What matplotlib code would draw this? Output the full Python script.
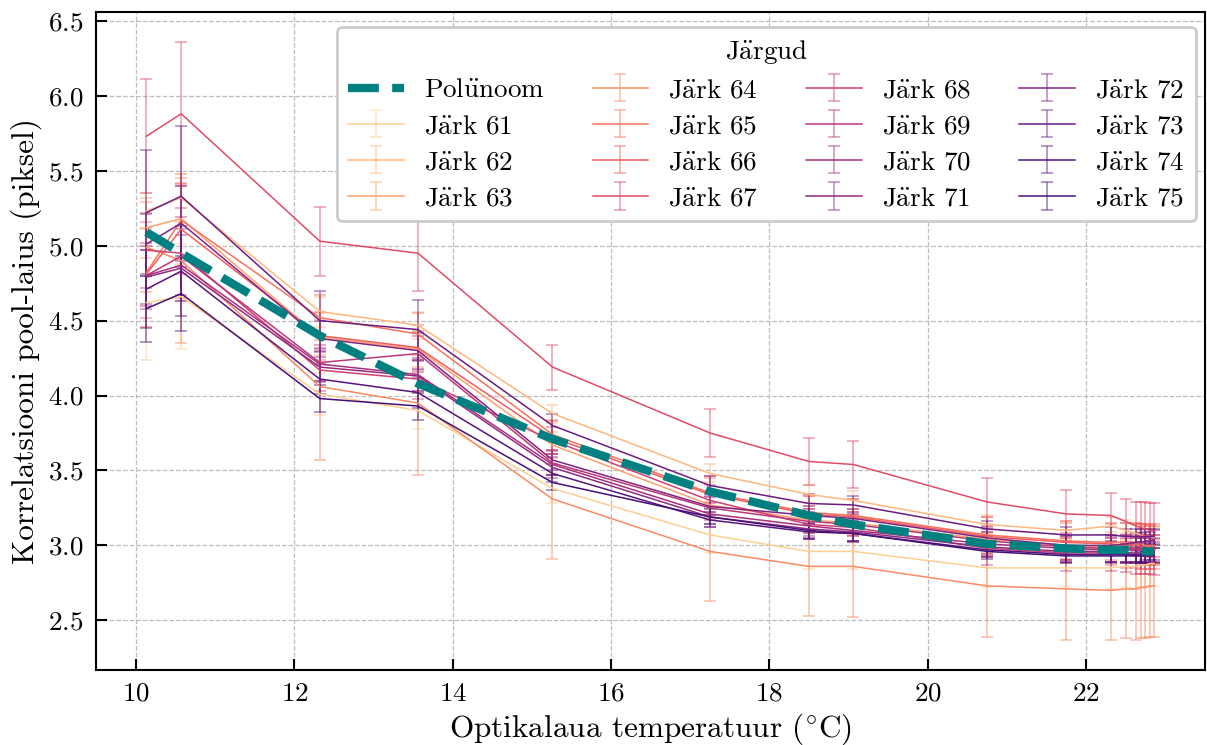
import numpy as np
import matplotlib
matplotlib.use("Agg")
import matplotlib.pyplot as plt

plt.rcParams['font.family'] = ['cmr10', 'DejaVu Serif']
plt.rcParams['mathtext.fontset'] = 'cm'
plt.rcParams['axes.formatter.use_mathtext'] = True

# umlauts drawn through mathtext so they stay in Computer Modern
A_UML = r'$\ddot{\mathrm{a}}$'
U_UML = r'$\ddot{\mathrm{u}}$'

# optikalaua temperatuur (°C)
x_temp = [10.13, 10.57, 12.32, 13.56, 15.26, 17.25, 18.50, 19.06, 20.75,
          21.75, 22.31, 22.50, 22.63, 22.69, 22.75, 22.81, 22.86]

poly = [5.09, 4.95, 4.40, 4.08, 3.71, 3.36, 3.20, 3.14, 3.01,
        2.98, 2.97, 2.97, 2.97, 2.97, 2.96, 2.96, 2.96]

y61 = [4.62, 4.66, 4.01, 3.90, 3.38, 3.07, 2.96, 2.96, 2.85, 2.85, 2.85, 2.86, 2.86, 2.87, 2.87, 2.88, 2.88]
e61 = [0.38, 0.35, 0.14, 0.12, 0.10, 0.12, 0.12, 0.12, 0.13, 0.13, 0.14, 0.14, 0.15, 0.15, 0.15, 0.15, 0.15]
y62 = [5.23, 5.32, 4.56, 4.47, 3.88, 3.48, 3.34, 3.30, 3.14, 3.10, 3.13, 3.10, 3.08, 3.07, 3.06, 3.06, 3.05]
e62 = [0.12, 0.16, 0.10, 0.09, 0.06, 0.06, 0.06, 0.06, 0.06, 0.06, 0.06, 0.07, 0.07, 0.07, 0.07, 0.07, 0.07]
y63 = [5.12, 5.18, 4.39, 4.31, 3.67, 3.27, 3.17, 3.15, 3.04, 3.00, 2.99, 2.98, 2.98, 2.97, 2.97, 2.97, 2.97]
e63 = [0.20, 0.30, 0.12, 0.12, 0.09, 0.09, 0.09, 0.09, 0.10, 0.10, 0.10, 0.10, 0.10, 0.10, 0.10, 0.10, 0.10]
y64 = [4.99, 4.90, 4.06, 3.95, 3.31, 2.96, 2.86, 2.86, 2.73, 2.71, 2.70, 2.71, 2.71, 2.72, 2.72, 2.73, 2.73]
e64 = [0.30, 0.55, 0.49, 0.48, 0.40, 0.33, 0.33, 0.34, 0.34, 0.34, 0.33, 0.33, 0.34, 0.34, 0.34, 0.34, 0.34]
y65 = [4.82, 5.17, 4.52, 4.41, 3.74, 3.35, 3.22, 3.20, 3.07, 3.03, 3.02, 3.02, 3.01, 3.01, 3.00, 3.00, 3.00]
e65 = [0.30, 0.25, 0.15, 0.14, 0.10, 0.10, 0.11, 0.11, 0.12, 0.12, 0.12, 0.13, 0.13, 0.13, 0.13, 0.13, 0.13]
y66 = [4.81, 5.11, 4.40, 4.32, 3.72, 3.34, 3.21, 3.19, 3.06, 3.02, 3.01, 3.00, 3.00, 2.99, 2.99, 2.99, 2.99]
e66 = [0.35, 0.30, 0.16, 0.15, 0.11, 0.12, 0.12, 0.12, 0.13, 0.14, 0.14, 0.15, 0.15, 0.15, 0.15, 0.15, 0.15]
y67 = [5.73, 5.88, 5.03, 4.95, 4.19, 3.75, 3.56, 3.54, 3.29, 3.21, 3.20, 3.16, 3.13, 3.12, 3.11, 3.10, 3.10]
e67 = [0.38, 0.48, 0.23, 0.25, 0.15, 0.16, 0.16, 0.16, 0.16, 0.16, 0.15, 0.15, 0.16, 0.17, 0.18, 0.18, 0.18]
y68 = [4.97, 4.95, 4.17, 4.11, 3.70, 3.30, 3.14, 3.12, 2.98, 2.95, 2.95, 2.94, 2.93, 2.93, 2.93, 2.93, 2.92]
e68 = [0.25, 0.30, 0.14, 0.13, 0.09, 0.10, 0.10, 0.10, 0.11, 0.12, 0.12, 0.12, 0.12, 0.12, 0.12, 0.12, 0.12]
y69 = [4.80, 4.93, 4.22, 4.28, 3.55, 3.25, 3.16, 3.14, 3.03, 2.99, 2.98, 2.98, 2.98, 2.98, 2.98, 2.98, 2.98]
e69 = [0.22, 0.26, 0.12, 0.12, 0.08, 0.08, 0.08, 0.08, 0.09, 0.09, 0.09, 0.09, 0.09, 0.09, 0.09, 0.09, 0.09]
y70 = [4.80, 4.87, 4.21, 4.14, 3.54, 3.21, 3.13, 3.10, 3.01, 2.98, 2.97, 2.97, 2.97, 2.97, 2.97, 2.97, 2.97]
e70 = [0.20, 0.24, 0.11, 0.11, 0.07, 0.07, 0.07, 0.07, 0.08, 0.08, 0.08, 0.08, 0.08, 0.08, 0.08, 0.08, 0.08]
y71 = [4.79, 4.85, 4.19, 4.13, 3.52, 3.19, 3.11, 3.09, 2.99, 2.96, 2.96, 2.95, 2.95, 2.95, 2.95, 2.95, 2.95]
e71 = [0.18, 0.22, 0.10, 0.10, 0.07, 0.07, 0.07, 0.07, 0.07, 0.07, 0.07, 0.07, 0.07, 0.07, 0.07, 0.07, 0.07]
y72 = [5.01, 5.15, 4.38, 4.30, 3.57, 3.26, 3.20, 3.18, 3.05, 3.00, 3.00, 3.01, 3.02, 3.02, 3.03, 3.03, 3.04]
e72 = [0.20, 0.25, 0.12, 0.12, 0.07, 0.06, 0.06, 0.06, 0.06, 0.06, 0.06, 0.06, 0.06, 0.06, 0.06, 0.06, 0.06]
y73 = [5.22, 5.33, 4.50, 4.44, 3.80, 3.40, 3.28, 3.27, 3.11, 3.07, 3.07, 3.06, 3.06, 3.06, 3.06, 3.06, 3.06]
e73 = [0.42, 0.47, 0.20, 0.20, 0.08, 0.06, 0.06, 0.06, 0.05, 0.05, 0.05, 0.05, 0.05, 0.05, 0.05, 0.05, 0.05]
y74 = [4.71, 4.83, 4.11, 4.02, 3.48, 3.17, 3.09, 3.08, 2.97, 2.94, 2.94, 2.94, 2.94, 2.94, 2.95, 2.95, 2.95]
e74 = [0.26, 0.30, 0.10, 0.10, 0.06, 0.05, 0.05, 0.05, 0.05, 0.05, 0.05, 0.05, 0.05, 0.05, 0.05, 0.05, 0.05]
y75 = [4.58, 4.68, 3.98, 3.93, 3.42, 3.19, 3.10, 3.08, 2.96, 2.93, 2.93, 2.93, 2.93, 2.93, 2.93, 2.93, 2.93]
e75 = [0.22, 0.25, 0.09, 0.09, 0.05, 0.05, 0.05, 0.05, 0.05, 0.05, 0.05, 0.05, 0.05, 0.05, 0.05, 0.05, 0.05]

batches = [61, 62, 63, 64, 65, 66, 67, 68, 69, 70, 71, 72, 73, 74, 75]
values = [y61, y62, y63, y64, y65, y66, y67, y68, y69, y70, y71, y72, y73, y74, y75]
errors = [e61, e62, e63, e64, e65, e66, e67, e68, e69, e70, e71, e72, e73, e74, e75]

colors = plt.cm.magma(np.linspace(0.9, 0.22, len(batches)))

fig, ax = plt.subplots(figsize=(12.07, 7.45), dpi=100)
fig.subplots_adjust(left=0.0795, right=0.998, top=0.984, bottom=0.101)

ax.plot(x_temp, poly, linestyle='--', color='teal', linewidth=6,
        label=f'Pol{U_UML}noom', zorder=5)

for b, y, e, c in zip(batches, values, errors, colors):
    ecol = (c[0], c[1], c[2], 0.55)
    ax.errorbar(x_temp, y, yerr=e, color=c, ecolor=ecol, linewidth=1.1,
                elinewidth=1.1, capsize=4, capthick=1.1,
                label=f'J{A_UML}rk {b}')

ax.grid(True, linestyle='--', color='#bdbdbd', linewidth=0.9)
ax.set_axisbelow(True)
ax.set_xlabel(r'Optikalaua temperatuur ($^{\circ}$C)', fontsize=22.5)
ax.set_ylabel('Korrelatsiooni pool-laius (piksel)', fontsize=22.5)
ax.tick_params(direction='in', length=8, width=1.5, labelsize=19.5, pad=9)
for s in ax.spines.values():
    s.set_linewidth(1.5)

leg = ax.legend(title=f'J{A_UML}rgud', ncol=4, loc='upper right', fontsize=19.5,
                title_fontsize=19.5, framealpha=1, edgecolor='#cccccc',
                borderpad=0.4, labelspacing=0.45, columnspacing=1.77,
                handlelength=2.05, handletextpad=0.75, borderaxespad=0,
                bbox_to_anchor=(0.9919, 0.977))
leg.get_frame().set_linewidth(2)

fig.savefig('out.png', dpi=100)
